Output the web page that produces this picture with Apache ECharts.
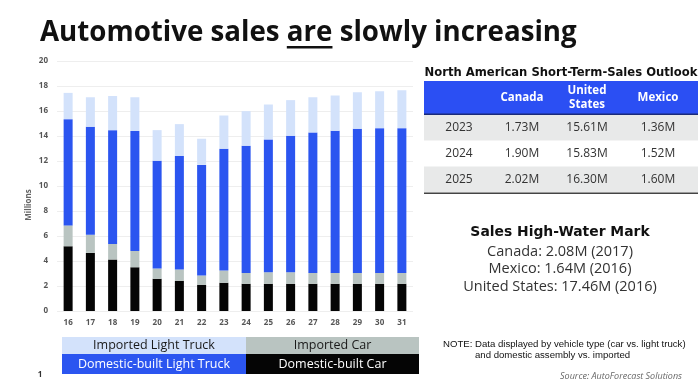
<!DOCTYPE html>
<html>
<head>
<meta charset="utf-8">
<script src="https://cdn.jsdelivr.net/npm/echarts@6/dist/echarts.min.js"></script>
<style>
html,body{margin:0;padding:0;background:#fff;}
#main{width:700px;height:392px;}
</style>
</head>
<body>
<div id="main"></div>
<script>
const categories = ['16','17','18','19','20','21','22','23','24','25','26','27','28','29','30','31'];
const domesticCar   = [5.18,4.65,4.12,3.50,2.58,2.42,2.10,2.26,2.18,2.18,2.18,2.18,2.18,2.18,2.18,2.18];
const importedCar   = [1.67,1.45,1.25,1.30,0.82,0.90,0.74,0.98,0.87,0.92,0.92,0.87,0.87,0.87,0.87,0.87];
const domesticTruck = [8.50,8.64,9.10,9.60,8.63,9.08,8.85,9.75,10.18,10.63,10.92,11.24,11.37,11.53,11.58,11.58];
const importedTruck = [2.10,2.36,2.73,2.70,2.44,2.55,2.09,2.65,2.76,2.79,2.85,2.81,2.82,2.92,2.95,3.03];

const tableTitle = 'North American Short-Term-Sales Outlook';
const tableHeader = ['', 'Canada', 'United\nStates', 'Mexico'];
const tableRows = [
  ['2023','1.73M','15.61M','1.36M'],
  ['2024','1.90M','15.83M','1.52M'],
  ['2025','2.02M','16.30M','1.60M']
];
const highWaterTitle = 'Sales High-Water Mark';
const highWater = ['Canada: 2.08M (2017)', 'Mexico: 1.64M (2016)', 'United States: 17.46M (2016)'];
const legendItems = [
  {name:'Imported Light Truck', bg:'#d3e2fb', fg:'#1a1a1a'},
  {name:'Imported Car', bg:'#b9c4c1', fg:'#1a1a1a'},
  {name:'Domestic-built Light Truck', bg:'#2b55f0', fg:'#ffffff'},
  {name:'Domestic-built Car', bg:'#050505', fg:'#ffffff'}
];

const COLORS = {domCar:'#050505', impCar:'#b9c4c1', domTruck:'#2b55f0', impTruck:'#d3e2fb'};

const chart = echarts.init(document.getElementById('main'), null, {renderer:'canvas'});

// measure title parts for underline
const titleFont = 'bold 27.7px "Open Sans"';
const cv = document.createElement('canvas').getContext('2d');
cv.font = titleFont;
const t1 = 'Automotive sales ', t2 = 'are', t3 = ' slowly increasing';
const tx = 40, ty = 33;
const w1 = cv.measureText(t1).width, w2 = cv.measureText(t2).width;

const g = [];
g.push({type:'text', x:tx, y:ty, style:{text:t1+t2+t3, font:titleFont, fill:'#111', textVerticalAlign:'middle'}});
g.push({type:'rect', shape:{x:tx+w1, y:ty+13, width:w2, height:2.5}, style:{fill:'#111'}});

// Table
const tX = 424, tW = 274;
const colCenters = [459, 522, 587, 658];
g.push({type:'text', x:561, y:73, style:{text:tableTitle, font:'bold 11.6px "DejaVu Sans"', fill:'#111', textAlign:'center', textVerticalAlign:'middle'}});
g.push({type:'rect', shape:{x:tX, y:81, width:tW, height:34}, style:{fill:'#2b4ff3'}});
g.push({type:'rect', shape:{x:tX, y:113.5, width:tW, height:1.5}, style:{fill:'#1a2a7a'}});
tableHeader.forEach((h,i)=>{
  if(!h) return;
  g.push({type:'text', x:colCenters[i], y:98, style:{text:h, font:'bold 11.5px "Open Sans"', fill:'#fff', textAlign:'center', textVerticalAlign:'middle', lineHeight:14}});
});
const rowTops = [115, 140.5, 166.5];
const rowH = 26;
tableRows.forEach((r,ri)=>{
  g.push({type:'rect', shape:{x:tX, y:rowTops[ri], width:tW, height:rowH}, style:{fill: ri%2===0 ? '#e8e9e9' : '#ffffff'}});
  r.forEach((c,ci)=>{
    g.push({type:'text', x:colCenters[ci], y:rowTops[ri]+rowH/2, style:{text:c, font:'12px "Open Sans"', fill:'#333', textAlign:'center', textVerticalAlign:'middle'}});
  });
});
g.push({type:'rect', shape:{x:tX, y:192.5, width:tW, height:1.5}, style:{fill:'#444'}});

// High water mark
g.push({type:'text', x:560, y:232, style:{text:highWaterTitle, font:'bold 13.9px "DejaVu Sans"', fill:'#111', textAlign:'center', textVerticalAlign:'middle'}});
highWater.forEach((s,i)=>{
  g.push({type:'text', x:560, y:[252,269,287][i], style:{text:s, font:'14.5px "Open Sans"', fill:'#333', textAlign:'center', textVerticalAlign:'middle'}});
});

// Note
g.push({type:'text', x:443, y:344, style:{text:'NOTE: Data displayed by vehicle type (car vs. light truck)', font:'9.6px "Liberation Sans"', fill:'#111', textVerticalAlign:'middle'}});
g.push({type:'text', x:475, y:355, style:{text:'and domestic assembly vs. imported', font:'9.6px "Liberation Sans"', fill:'#111', textVerticalAlign:'middle'}});
g.push({type:'text', x:682, y:376, style:{text:'Source: AutoForecast Solutions', font:'italic 9px "Open Sans"', fill:'#666', textAlign:'right', textVerticalAlign:'middle'}});
g.push({type:'text', x:40, y:375, style:{text:'1', font:'bold 8px "Open Sans"', fill:'#333', textAlign:'center', textVerticalAlign:'middle'}});

// Legend table
const lgX = [62, 246], lgW = [184, 173], lgY = [337, 354], lgH = [17, 20];
legendItems.forEach((it,i)=>{
  const c = i%2, r = Math.floor(i/2);
  g.push({type:'rect', shape:{x:lgX[c], y:lgY[r], width:lgW[c], height:lgH[r]}, style:{fill:it.bg}});
  g.push({type:'text', x:lgX[c]+lgW[c]/2, y:lgY[r]+lgH[r]/2, style:{text:it.name, font:'12.5px "Open Sans"', fill:it.fg, textAlign:'center', textVerticalAlign:'middle'}});
});

const mk = (name, data, color) => ({name, type:'bar', stack:'total', data, barWidth:9, itemStyle:{color}});

chart.setOption({
  animation:false,
  grid:{left:57, right:287, top:61, bottom:81},
  xAxis:{type:'category', data:categories, axisLine:{show:false}, axisTick:{show:false},
    axisLabel:{color:'#555', fontSize:8, fontWeight:'bold', fontFamily:'Open Sans', margin:8}},
  yAxis:{type:'value', min:0, max:20, interval:2, name:'Millions', nameLocation:'middle', nameGap:24, nameRotate:90,
    nameMoveOverlap:false,
    nameTextStyle:{color:'#666', fontSize:8, fontWeight:'bold', fontFamily:'Open Sans', padding:[0,38,0,0]},
    axisLabel:{color:'#555', fontSize:8, fontWeight:'bold', fontFamily:'Open Sans', margin:9},
    splitLine:{lineStyle:{color:'#eeeeee', width:1}}},
  series:[
    mk('Domestic-built Car', domesticCar, COLORS.domCar),
    mk('Imported Car', importedCar, COLORS.impCar),
    mk('Domestic-built Light Truck', domesticTruck, COLORS.domTruck),
    mk('Imported Light Truck', importedTruck, COLORS.impTruck)
  ],
  graphic:g
});
</script>
</body>
</html>
